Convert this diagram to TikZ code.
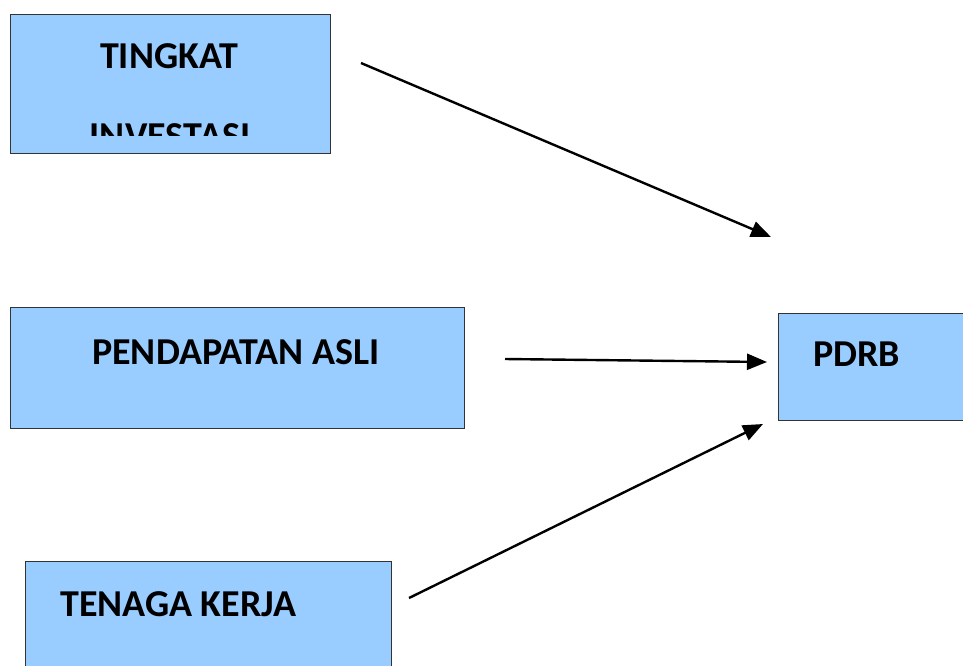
\documentclass[tikz,border=0pt]{standalone}
\usepackage{fontspec}
\setmainfont{Carlito}
\usetikzlibrary{arrows.meta}
\definecolor{boxblue}{HTML}{99CCFF}
\definecolor{boxline}{HTML}{333333}
\begin{document}
\begin{tikzpicture}[x=1pt,y=-1pt,
  boxstyle/.style={draw=boxline,line width=1pt,fill=boxblue},
  lbl/.style={font=\fontsize{38}{42}\selectfont\bfseries,inner sep=0pt,anchor=base},
  conn/.style={line width=2.4pt,-{Triangle[length=20pt,width=16pt]}}]
\useasboundingbox (0,0) rectangle (963,665);
\clip (0,0) rectangle (963,665);
% boxes
\draw[boxstyle] (10,14) rectangle (330,153);
\draw[boxstyle] (10,307) rectangle (464,428);
\draw[boxstyle] (25,561) rectangle (391,680);
\draw[boxstyle] (778,313) rectangle (980,420);
% texts
\node[lbl] (t1) at (169,68) {TINGKAT};
\begin{scope}
\clip (10,14) rectangle (330,135);
\node[lbl] (t1b) at (170,148) {INVESTASI};
\end{scope}
\node[lbl,anchor=base west] (t2) at (92,364) {PENDAPATAN ASLI};
\node[lbl,anchor=base west] (t3) at (60,616) {TENAGA KERJA};
\node[lbl,anchor=base west] (t4) at (813,366) {PDRB};
% connector endpoints
\coordinate (a1) at (361,63);
\coordinate (b1) at (771,237);
\coordinate (a2) at (505,359);
\coordinate (b2) at (767,362);
\coordinate (a3) at (409,598);
\coordinate (b3) at (763,424);
\draw[conn] (a1) -- (b1);
\draw[conn] (a2) -- (b2);
\draw[conn] (a3) -- (b3);
\end{tikzpicture}
\end{document}
